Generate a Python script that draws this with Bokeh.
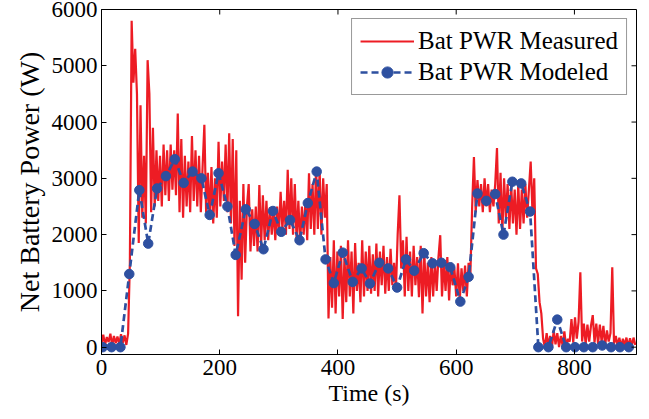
import math

from bokeh.plotting import figure
from bokeh.models import FixedTicker, Range1d
from bokeh.embed import file_html
from bokeh.resources import INLINE

# Measured battery power, sampled every 3 s (W)
t_measured = list(range(0, 906, 3))
p_measured = [
    60, 220, 40, 180, 90, 240, 30, 200, 70, 190,
    50, 230, 80, 210, 40, 240, 1500, 5800, 4700, 5300,
    4500, 1850, 4300, 2300, 3400, 2200, 5100, 4500, 2400, 3900,
    2500, 3500, 2600, 3400, 2500, 3600, 2700, 3500, 2600, 3600,
    2800, 3500, 2700, 4150, 2400, 3700, 2300, 3400, 2500, 3300,
    2400, 3750, 2600, 3500, 2500, 3400, 2400, 3200, 3950, 2400,
    3100, 2300, 3200, 2200, 3000, 2300, 3650, 2500, 3300, 2600,
    3600, 2400, 3800, 2200, 3700, 1800, 3500, 550, 2600, 1200,
    2900, 1500, 2500, 2900, 1700, 2450, 1800, 2500, 1700, 2880,
    1800, 2700, 1900, 2600, 1900, 2490, 2000, 2450, 1900, 2500,
    2000, 2760, 2100, 2600, 2000, 3150, 2100, 3000, 2000, 2900,
    1900, 2600, 1850, 2500, 2000, 2600, 1900, 3090, 2100, 2900,
    2000, 3200, 2100, 3150, 2000, 3000, 2300, 2900, 510, 1600,
    700, 1900, 600, 1700, 900, 1800, 500, 1600, 800, 1900,
    900, 1700, 600, 1850, 1000, 1500, 800, 1900, 900, 1700,
    1000, 1800, 950, 1650, 1000, 1840, 900, 1700, 1100, 1800,
    950, 1600, 1000, 1750, 1100, 1500, 1000, 2000, 2700, 1400,
    1900, 900, 1960, 1000, 1700, 900, 1800, 1100, 1600, 890,
    1800, 600, 1700, 900, 1500, 800, 1600, 900, 1500, 1000,
    1600, 1990, 900, 1500, 1000, 1600, 830, 1500, 1100, 1400,
    900, 1490, 830, 1400, 1000, 1450, 900, 1500, 1300, 2500,
    3380, 2400, 2970, 2500, 2900, 2400, 3000, 2500, 2900, 2400,
    2800, 2500, 2900, 3540, 2200, 3100, 2000, 3000, 2300, 2900,
    2100, 2900, 2200, 2800, 2000, 2900, 2100, 2800, 2200, 2900,
    2300, 2800, 3300, 2400, 3000, 1400, 1300, 800, 600, 150,
    0, 250, 20, 200, 0, 300, 50, 250, 0, 200,
    30, 280, 0, 150, 100, 500, 80, 530, 150, 450,
    1330, 100, 420, 50, 400, 100, 380, 570, 80, 420,
    60, 400, 100, 380, 30, 300, 100, 250, 1420, 60,
    200, 20, 170, 0, 150, 30, 170, 0, 160, 20,
    170, 40,
]

# Modeled battery power at the model's output steps (W)
t_modeled = [2, 17, 32, 47, 64, 79, 94, 109, 124, 139,
             154, 169, 183, 198, 213, 227, 244, 259, 274, 290,
             304, 319, 335, 349, 364, 379, 393, 408, 425, 440,
             454, 470, 485, 500, 515, 529, 545, 560, 575, 590,
             607, 621, 636, 651, 666, 680, 695, 710, 725, 739,
             756, 771, 786, 801, 816, 831, 847, 862, 877, 892]
p_modeled = [0, 0, 0, 1300, 2790, 1840, 2820, 3040, 3340, 2920,
             3120, 3000, 2350, 3090, 2500, 1640, 2450, 2190, 1740, 2420,
             2050, 2260, 1900, 2560, 3120, 1560, 1140, 1680, 1160, 1400,
             1130, 1500, 1400, 1060, 1560, 1360, 1670, 1490, 1500, 1420,
             810, 1250, 2730, 2600, 2720, 2000, 2940, 2910, 2410, 0,
             0, 490, 0, 0, 0, 0, 30, 0, 0, 0]

x_ticks = [0, 200, 400, 600, 800]
y_ticks = [0, 1000, 2000, 3000, 4000, 5000, 6000]
x_lim = (0, 905)
y_lim = (-130, 6000)

RED = "#ED1C24"
BLUE = "#2E50A0"
SERIF = "Liberation Serif"

p = figure(
    frame_width=535, frame_height=345,
    x_range=Range1d(*x_lim), y_range=Range1d(*y_lim),
    output_backend="svg", toolbar_location=None,
    min_border_left=101, min_border_right=13,
    min_border_top=9, min_border_bottom=65,
    background_fill_color="white", border_fill_color="white",
)
p.xgrid.visible = False
p.ygrid.visible = False
p.outline_line_color = "black"
p.outline_line_width = 1

p.line(t_measured, p_measured, color=RED, line_width=2.2,
       legend_label="Bat PWR Measured")
p.line(t_modeled, p_modeled, color=BLUE, line_width=2.7, line_dash="7 4",
       legend_label="Bat PWR Modeled")
p.scatter(t_modeled, p_modeled, marker="circle", size=9.5,
          fill_color=BLUE, line_color=BLUE, legend_label="Bat PWR Modeled")

# Main axes: ticks pointing inwards
for ax, ticks in ((p.xaxis[0], x_ticks), (p.yaxis[0], y_ticks)):
    ax.ticker = FixedTicker(ticks=ticks)
    ax.major_tick_in = 5
    ax.major_tick_out = 0
    ax.minor_tick_in = 0
    ax.minor_tick_out = 0
    ax.major_label_text_font = SERIF
    ax.major_label_text_font_size = "23px"
    ax.major_label_text_color = "black"
    ax.axis_line_color = "black"
    ax.major_tick_line_color = "black"
    ax.axis_label_text_font = SERIF
    ax.axis_label_text_font_style = "normal"
    ax.axis_label_text_color = "black"

p.xaxis[0].axis_label = "Time (s)"
p.xaxis[0].axis_label_text_font_size = "24px"
p.xaxis[0].major_label_standoff = 5
p.xaxis[0].axis_label_standoff = 2
p.yaxis[0].axis_label = "Net Battery Power (W)"
p.yaxis[0].axis_label_text_font_size = "28px"
p.yaxis[0].major_label_standoff = 4
p.yaxis[0].axis_label_standoff = 4

# Mirrored inward tick marks on the top and right edges of the box
p.ray(x=x_ticks, y=[y_lim[1]] * len(x_ticks), length=5, length_units="screen",
      angle=-math.pi / 2, line_color="black", line_width=1)
p.ray(x=[x_lim[1]] * len(y_ticks), y=y_ticks, length=5, length_units="screen",
      angle=math.pi, line_color="black", line_width=1)

lg = p.legend[0]
lg.location = "top_right"
lg.margin = 9
lg.padding = 8
lg.spacing = 3
lg.label_text_font = SERIF
lg.label_text_font_size = "25px"
lg.label_text_color = "black"
lg.label_standoff = 4
lg.glyph_width = 54
lg.glyph_height = 28
lg.border_line_color = "#333333"
lg.border_line_width = 1
lg.background_fill_color = "white"
lg.background_fill_alpha = 1.0

open("out.html", "w").write(file_html(p, INLINE))
